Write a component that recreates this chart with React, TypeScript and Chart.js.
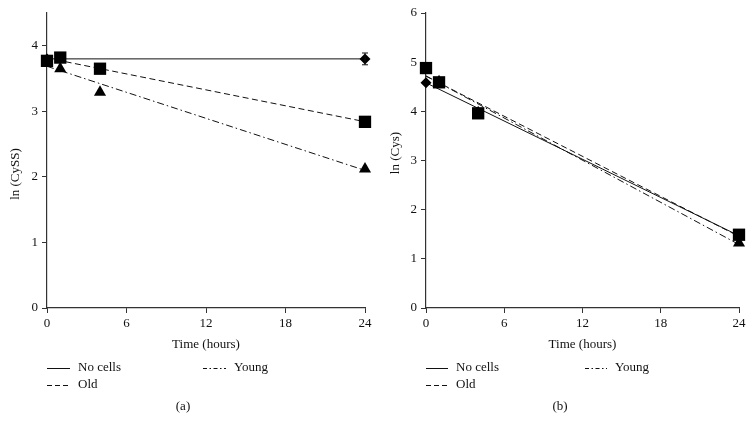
import React, { useEffect, useRef } from "react";
import { Chart, registerables } from "chart.js";

Chart.register(...registerables);

// ---------- data ----------
const xTickValues = [0, 6, 12, 18, 24];

// Panel (a): ln (CySS)
const aYTicks = [0, 1, 2, 3, 4];
const aNoCellsX = [0, 24];
const aNoCellsY = [3.8, 3.8];
const aNoCellsErr = [0, 0.09];
const aOldX = [0, 1, 4, 24];
const aOldY = [3.77, 3.82, 3.65, 2.84];
const aYoungX = [0, 1, 4, 24];
const aYoungY = [3.77, 3.65, 3.29, 2.12];

// Panel (b): ln (Cys)
const bYTicks = [0, 1, 2, 3, 4, 5, 6];
const bNoCellsX = [0, 24];
const bNoCellsY = [4.58, 1.47];
const bNoCellsErr = [0, 0];
const bOldX = [0, 1, 4, 24];
const bOldY = [4.88, 4.59, 3.96, 1.49];
const bYoungX = [0, 1, 4, 24];
const bYoungY = [4.85, 4.6, 3.97, 1.32];

const seriesLabels = ["No cells", "Old", "Young"];

// ---------- styles ----------
const FONT = "'Liberation Serif', 'DejaVu Serif', serif";
const INK = "#111";
const AXIS = "#333";
const DASH_OLD = [6, 3.5];
const DASH_YOUNG = [7, 3, 1.5, 3];
const LEG_DASH_OLD = [5, 3];
const LEG_DASH_YOUNG = [4, 2.5, 1.5, 2.5];

function pts(xs: number[], ys: number[]) {
  return xs.map((x, i) => ({ x, y: ys[i] }));
}

function fitLine(xs: number[], ys: number[]) {
  const n = xs.length;
  const mx = xs.reduce((s, v) => s + v, 0) / n;
  const my = ys.reduce((s, v) => s + v, 0) / n;
  let sxy = 0;
  let sxx = 0;
  for (let i = 0; i < n; i++) {
    sxy += (xs[i] - mx) * (ys[i] - my);
    sxx += (xs[i] - mx) * (xs[i] - mx);
  }
  const b = sxx === 0 ? 0 : sxy / sxx;
  const a = my - b * mx;
  const x0 = Math.min(...xs);
  const x1 = Math.max(...xs);
  return [
    { x: x0, y: a + b * x0 },
    { x: x1, y: a + b * x1 },
  ];
}

type PanelProps = {
  left: number;
  yMax: number;
  yTicks: number[];
  yTitle: string;
  yTitlePos: { x: number; y: number };
  caption: string;
  padRight: number;
  axisWidth: number;
  noCellsX: number[];
  noCellsY: number[];
  noCellsErr: number[];
  oldX: number[];
  oldY: number[];
  youngX: number[];
  youngY: number[];
  legend: { noCellsX: number; youngX: number; row1: number; row2: number; lineLen: number; gap: number };
  captionX: number;
};

const W = 377;
const H = 433;

function Panel(p: PanelProps) {
  const ref = useRef<HTMLCanvasElement | null>(null);

  useEffect(() => {
    if (!ref.current) return;

    const decor = {
      id: "decor",
      afterDatasetsDraw(chart: any) {
        const ctx = chart.ctx;
        const xs = chart.scales.x;
        const ys = chart.scales.y;
        ctx.save();
        ctx.strokeStyle = INK;
        ctx.lineWidth = 1;
        p.noCellsX.forEach((x, i) => {
          const e = p.noCellsErr[i];
          if (!e) return;
          const px = xs.getPixelForValue(x);
          const top = ys.getPixelForValue(p.noCellsY[i] + e);
          const bot = ys.getPixelForValue(p.noCellsY[i] - e);
          ctx.beginPath();
          ctx.moveTo(px, top);
          ctx.lineTo(px, bot);
          ctx.moveTo(px - 3, top);
          ctx.lineTo(px + 3, top);
          ctx.moveTo(px - 3, bot);
          ctx.lineTo(px + 3, bot);
          ctx.stroke();
        });
        ctx.restore();
      },
      afterDraw(chart: any) {
        const ctx = chart.ctx;
        const L = p.legend;
        const items = [
          { label: seriesLabels[0], dash: [] as number[], x: L.noCellsX, y: L.row1 },
          { label: seriesLabels[1], dash: LEG_DASH_OLD, x: L.noCellsX, y: L.row2 },
          { label: seriesLabels[2], dash: LEG_DASH_YOUNG, x: L.youngX, y: L.row1 },
        ];
        ctx.save();
        ctx.font = `13px ${FONT}`;
        ctx.fillStyle = INK;
        ctx.textBaseline = "middle";
        ctx.textAlign = "left";
        items.forEach((it) => {
          ctx.strokeStyle = INK;
          ctx.lineWidth = 1;
          ctx.setLineDash(it.dash);
          ctx.beginPath();
          ctx.moveTo(it.x, it.y + 0.5);
          ctx.lineTo(it.x + L.lineLen, it.y + 0.5);
          ctx.stroke();
          ctx.setLineDash([]);
          ctx.fillText(it.label, it.x + L.lineLen + L.gap, it.y);
        });
        ctx.textAlign = "center";
        ctx.fillText(p.caption, p.captionX, 407);
        // y-axis title
        ctx.translate(p.yTitlePos.x, p.yTitlePos.y);
        ctx.rotate(-Math.PI / 2);
        ctx.fillText(p.yTitle, 0, 0);
        ctx.restore();
      },
    };

    const font = { family: FONT, size: 13 };

    const chart = new Chart(ref.current, {
      type: "scatter",
      data: {
        datasets: [
          {
            label: seriesLabels[1] + " points",
            data: pts(p.oldX, p.oldY),
            pointStyle: "rect",
            pointRadius: 8.7,
            backgroundColor: "#000",
            borderColor: "#000",
            borderWidth: 0,
            showLine: false,
            clip: false,
          },
          {
            label: seriesLabels[2] + " points",
            data: pts(p.youngX, p.youngY),
            pointStyle: "triangle",
            pointRadius: 7,
            backgroundColor: "#000",
            borderColor: "#000",
            borderWidth: 0,
            showLine: false,
            clip: false,
          },
          {
            label: seriesLabels[0] + " points",
            data: pts(p.noCellsX, p.noCellsY),
            pointStyle: "rectRot",
            pointRadius: 5.5,
            backgroundColor: "#000",
            borderColor: "#000",
            borderWidth: 0,
            showLine: false,
            clip: false,
          },
          {
            label: seriesLabels[0],
            data: fitLine(p.noCellsX, p.noCellsY),
            showLine: true,
            pointRadius: 0,
            borderColor: INK,
            borderWidth: 1,
            clip: false,
          },
          {
            label: seriesLabels[1],
            data: fitLine(p.oldX, p.oldY),
            showLine: true,
            pointRadius: 0,
            borderColor: INK,
            borderWidth: 1,
            borderDash: DASH_OLD,
            clip: false,
          },
          {
            label: seriesLabels[2],
            data: fitLine(p.youngX, p.youngY),
            showLine: true,
            pointRadius: 0,
            borderColor: INK,
            borderWidth: 1,
            borderDash: DASH_YOUNG,
            clip: false,
          },
        ],
      },
      options: {
        animation: false,
        responsive: false,
        maintainAspectRatio: false,
        devicePixelRatio: 1,
        layout: { padding: { left: 0, right: p.padRight, top: 13, bottom: 75 } },
        plugins: {
          legend: { display: false },
          tooltip: { enabled: false },
        },
        scales: {
          x: {
            type: "linear",
            min: 0,
            max: 24,
            afterBuildTicks: (ax: any) => {
              ax.ticks = xTickValues.map((v) => ({ value: v }));
            },
            afterFit: (s: any) => {
              s.height = 50;
            },
            grid: {
              display: true,
              drawOnChartArea: false,
              drawTicks: true,
              tickLength: 5,
              color: AXIS,
              lineWidth: 1,
            },
            border: { display: true, color: AXIS, width: 1.2 },
            ticks: { font, color: INK, padding: 3, maxRotation: 0, autoSkip: false },
            title: {
              display: true,
              text: "Time (hours)",
              font,
              color: INK,
              padding: { top: 2, bottom: 6 },
            },
          },
          y: {
            type: "linear",
            min: 0,
            max: p.yMax,
            afterBuildTicks: (ax: any) => {
              ax.ticks = p.yTicks.map((v) => ({ value: v }));
            },
            afterFit: (s: any) => {
              s.width = p.axisWidth;
            },
            grid: {
              display: true,
              drawOnChartArea: false,
              drawTicks: true,
              tickLength: 5,
              color: AXIS,
              lineWidth: 1,
            },
            border: { display: true, color: AXIS, width: 1.2 },
            ticks: { font, color: INK, padding: 4, autoSkip: false },
            title: { display: false },
          },
        },
      } as any,
      plugins: [decor],
    });

    return () => chart.destroy();
  }, []);

  return (
    <canvas
      ref={ref}
      width={W}
      height={H}
      style={{ position: "absolute", left: p.left, top: 0, width: W, height: H }}
    />
  );
}

export default function App() {
  return (
    <div
      style={{
        position: "fixed",
        left: 0,
        top: 0,
        width: 754,
        height: 433,
        background: "#fff",
        overflow: "hidden",
      }}
    >
      <Panel
        left={0}
        yMax={4.5}
        yTicks={aYTicks}
        yTitle="ln (CySS)"
        yTitlePos={{ x: 16, y: 174 }}
        caption="(a)"
        padRight={12}
        axisWidth={47}
        noCellsX={aNoCellsX}
        noCellsY={aNoCellsY}
        noCellsErr={aNoCellsErr}
        oldX={aOldX}
        oldY={aOldY}
        youngX={aYoungX}
        youngY={aYoungY}
        legend={{ noCellsX: 47, youngX: 203, row1: 368, row2: 385, lineLen: 23, gap: 8 }}
        captionX={183}
      />
      <Panel
        left={377}
        yMax={6}
        yTicks={bYTicks}
        yTitle="ln (Cys)"
        yTitlePos={{ x: 19, y: 153 }}
        caption="(b)"
        padRight={15}
        axisWidth={49}
        noCellsX={bNoCellsX}
        noCellsY={bNoCellsY}
        noCellsErr={bNoCellsErr}
        oldX={bOldX}
        oldY={bOldY}
        youngX={bYoungX}
        youngY={bYoungY}
        legend={{ noCellsX: 49, youngX: 208, row1: 368, row2: 385, lineLen: 22, gap: 8 }}
        captionX={183}
      />
    </div>
  );
}
